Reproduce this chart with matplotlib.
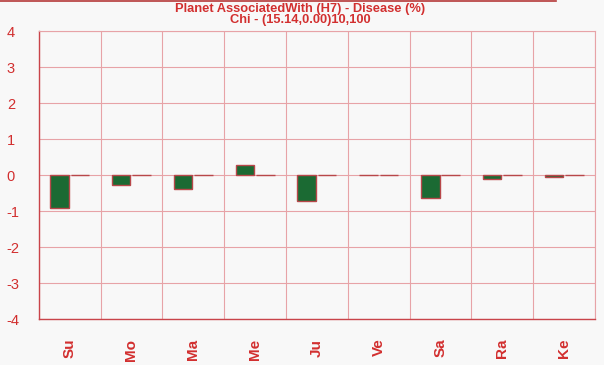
import matplotlib.pyplot as plt
import numpy as np
from matplotlib.lines import Line2D

TITLE = "Planet AssociatedWith (H7) - Disease (%)"
SUBTITLE = "Chi - (15.14,0.00)10,100"

planets = ["Su", "Mo", "Ma", "Me", "Ju", "Ve", "Sa", "Ra", "Ke"]
observed = [-0.92, -0.27, -0.39, 0.30, -0.70, 0.0, -0.64, -0.11, -0.05]
expected = [0.0, 0.0, 0.0, 0.0, 0.0, 0.0, 0.0, 0.0, 0.0]
y_ticks = [-4, -3, -2, -1, 0, 1, 2, 3, 4]

TEXT_RED = "#d22f2f"
GRID_PINK = "#e7a3a7"
BG = "#f8f8f8"

plt.rcParams["font.family"] = ["Liberation Sans", "DejaVu Sans"]

fig = plt.figure(figsize=(6.04, 3.65), dpi=100, facecolor=BG)
ax = fig.add_axes([38.7 / 604, 1 - 319.3 / 365, (595 - 38.7) / 604, (319.3 - 31.3) / 365])
ax.set_facecolor(BG)

x = np.arange(len(planets))
width = 0.3
ax.bar(x - 0.165, observed, width, color="#1b6a33", edgecolor="#b8474a", linewidth=1.0, zorder=3)
ax.bar(x + 0.165, expected, width, color="#1b6a33", edgecolor="#b8474a", linewidth=1.0, zorder=3)

ax.set_xlim(-0.5, len(planets) - 0.5)
ax.set_ylim(-4, 4)
ax.set_yticks(y_ticks)
ax.set_yticklabels([str(v) for v in y_ticks])
ax.set_xticks(x)
ax.set_xticklabels(planets, rotation=90, fontweight="bold", fontsize=11, color=TEXT_RED)
ax.set_xticks(np.arange(len(planets) + 1) - 0.5, minor=True)

ax.tick_params(axis="x", which="both", length=0, pad=14)
ax.tick_params(axis="y", length=0, pad=23, labelsize=10.5, labelcolor=TEXT_RED)
for lab in ax.get_yticklabels():
    lab.set_horizontalalignment("left")

ax.grid(axis="y", which="major", color=GRID_PINK, linewidth=0.8, zorder=0)
ax.grid(axis="x", which="minor", color=GRID_PINK, linewidth=0.8, zorder=0)
ax.grid(axis="x", which="major", visible=False)

for side in ["left", "bottom"]:
    ax.spines[side].set_color("#c9444a")
    ax.spines[side].set_linewidth(1.0)
for side in ["top", "right"]:
    ax.spines[side].set_color(GRID_PINK)
    ax.spines[side].set_linewidth(0.8)

fig.text(0.497, 1 - 9 / 365, TITLE, ha="center", va="center", fontsize=9.3, fontweight="bold", color=TEXT_RED)
fig.text(0.497, 1 - 20.5 / 365, SUBTITLE, ha="center", va="center", fontsize=9.3, fontweight="bold", color=TEXT_RED)

# thin strip along the top edge
fig.add_artist(Line2D([0, 0.92], [0.998, 0.998], color="#b53a3a", linewidth=1.2, transform=fig.transFigure))

fig.savefig("out.png", dpi=100, facecolor=BG)
